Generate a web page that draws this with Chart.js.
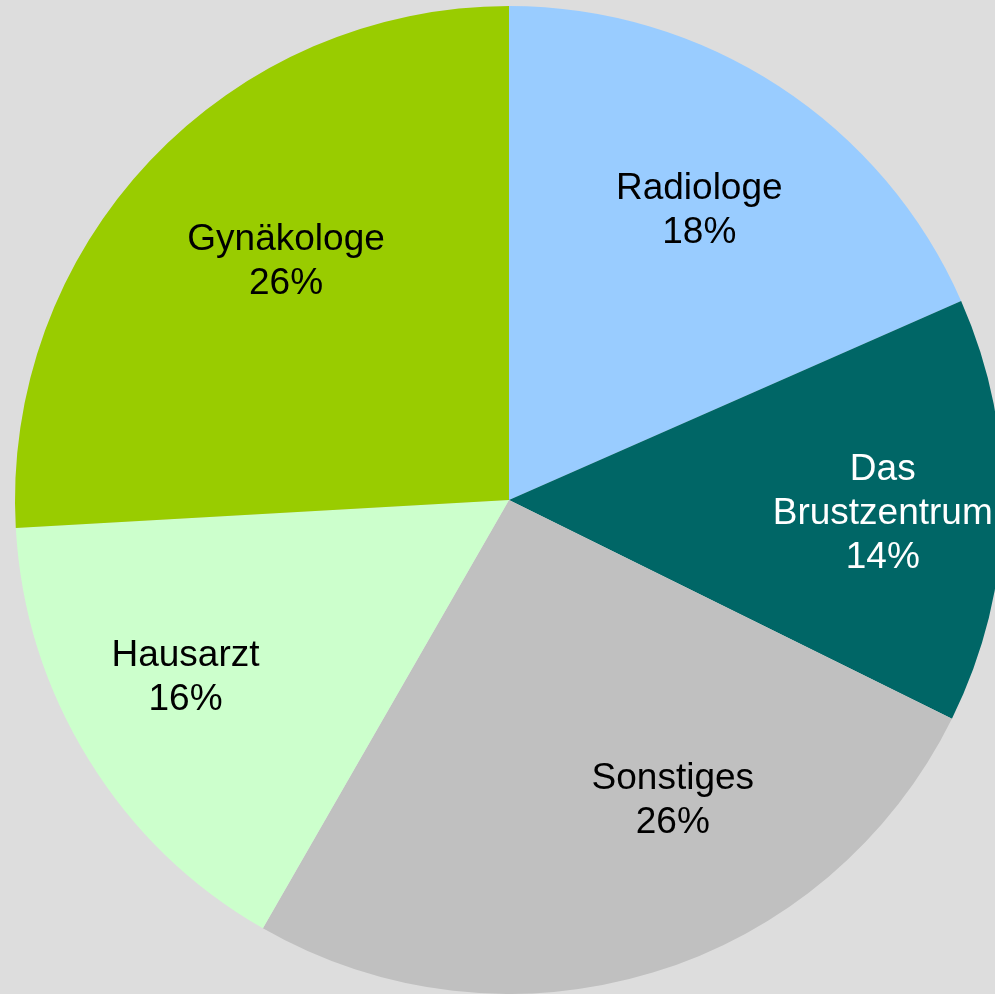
<!DOCTYPE html>
<html>
<head>
<meta charset="utf-8">
<script src="https://cdn.jsdelivr.net/npm/chart.js@4"></script>
<style>
  html, body { margin: 0; padding: 0; background: #DDDDDD; overflow: hidden; width: 995px; height: 994px; }
  #wrap { position: absolute; left: 0; top: 0; width: 1018px; height: 994px; }
</style>
</head>
<body>
<div id="wrap"><canvas id="c" width="1018" height="994"></canvas></div>
<script>
const categories = ["Radiologe", "Das Brustzentrum", "Sonstiges", "Hausarzt", "Gynäkologe"];
const labelLines = [["Radiologe"], ["Das", "Brustzentrum"], ["Sonstiges"], ["Hausarzt"], ["Gynäkologe"]];
const values = [18.4, 13.9, 26.0, 15.8, 25.9];
const colors = ["#99CCFF", "#006666", "#C0C0C0", "#CCFFCC", "#99CC00"];
const textColors = ["#000000", "#FFFFFF", "#000000", "#000000", "#000000"];

// label placement tweaks (radius fraction, angle offset in degrees)
const labelPlacement = [
  { r: 0.705, a: 0 },
  { r: 0.757, a: 0.6 },
  { r: 0.690, a: -11.8 },
  { r: 0.745, a: 3.2 },
  { r: 0.664, a: 3.8 }
];

const labelPlugin = {
  id: 'sliceLabels',
  afterDatasetsDraw(chart) {
    const ctx = chart.ctx;
    const meta = chart.getDatasetMeta(0);
    const total = values.reduce((s, v) => s + v, 0);
    ctx.save();
    ctx.font = '37px "Liberation Sans", Arial, sans-serif';
    ctx.textAlign = 'center';
    ctx.textBaseline = 'middle';
    const lh = 44;
    meta.data.forEach((arc, i) => {
      const p = labelPlacement[i];
      const mid = (arc.startAngle + arc.endAngle) / 2 + p.a * Math.PI / 180;
      const rr = arc.outerRadius * p.r;
      const cx = arc.x + Math.cos(mid) * rr;
      const cy = arc.y + Math.sin(mid) * rr + 2;
      const lines = labelLines[i].concat([Math.round(values[i] / total * 100) + '%']);
      const y0 = cy - (lines.length - 1) * lh / 2;
      ctx.fillStyle = textColors[i];
      lines.forEach((t, k) => ctx.fillText(t, cx, y0 + k * lh));
    });
    ctx.restore();
  }
};

new Chart(document.getElementById('c'), {
  type: 'pie',
  data: {
    labels: categories,
    datasets: [{
      data: values,
      backgroundColor: colors,
      borderWidth: 0
    }]
  },
  options: {
    responsive: false,
    animation: false,
    layout: { padding: { top: 6, bottom: 0, left: 0, right: 0 } },
    plugins: {
      legend: { display: false },
      tooltip: { enabled: false }
    }
  },
  plugins: [labelPlugin]
});
</script>
</body>
</html>
